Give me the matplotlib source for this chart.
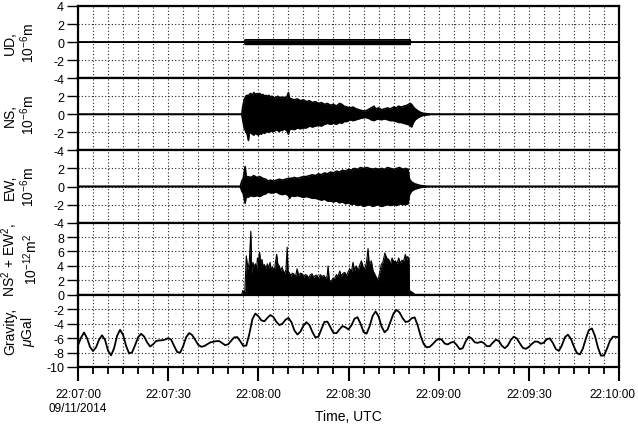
import matplotlib
matplotlib.use("Agg")
import matplotlib.pyplot as plt
from matplotlib.ticker import MultipleLocator, FixedLocator
from matplotlib.transforms import ScaledTranslation
import numpy as np

# ---------------- data (seconds after 22:07:00) ----------------
xtick_pos = [0, 30, 60, 90, 120, 150, 180]
xtick_labels = ["22:07:00\n09/11/2014", "22:07:30", "22:08:00", "22:08:30",
                "22:09:00", "22:09:30", "22:10:00"]

# UD displacement envelope (10^-6 m)
ud_t = [0, 55.5, 55.6, 110.5, 110.6, 180]
ud_upper = [0, 0, 0.25, 0.25, 0, 0]
ud_lower = [0, 0, -0.25, -0.25, 0, 0]

# NS displacement envelope (10^-6 m)
ns_t = [0, 54.5, 54.8, 55.3, 55.8, 56.3, 56.7, 57.0, 57.5, 58.0, 58.5, 59.0, 59.5, 60.0,
        60.5, 61.0, 61.5, 62.0, 62.5, 63.0, 63.5, 64.0, 64.5, 65.0, 65.5, 66.0, 66.5,
        67.0, 67.5, 68.0, 68.5, 69.0, 69.5, 70.0, 70.4, 71.0, 72.0, 73.0, 74.0, 75.0,
        76.0, 77.0, 78.0, 79.0, 80.0, 81.0, 82.0, 83.0, 84.0, 85.0, 86.0, 87.0, 87.8,
        88.5, 89.5, 90.5, 91.5, 92.5, 93.5, 94.5, 95.5, 96.5, 97.5, 98.5, 99.0, 100.0,
        101.0, 102.0, 103.0, 104.0, 105.0, 106.0, 106.6, 107.5, 108.5, 109.5, 110.5,
        111.0, 111.6, 112.2, 113.0, 114.0, 115.0, 116.5, 117.5, 180]
ns_upper = [0, 0, 0.8, 1.6, 2.0, 2.1, 2.0, 2.2, 2.3, 2.1, 2.4, 2.2, 2.3, 2.2,
            2.3, 2.1, 2.2, 2.0, 2.1, 2.0, 2.1, 1.9, 2.0, 1.9, 1.8, 1.9, 2.0,
            1.8, 1.9, 1.8, 1.9, 1.8, 1.9, 2.4, 1.8, 1.7, 1.6, 1.7, 1.5, 1.6,
            1.4, 1.5, 1.3, 1.4, 1.2, 1.3, 1.1, 1.2, 1.0, 1.1, 0.9, 1.2, 1.1,
            0.9, 0.8, 0.7, 0.8, 0.6, 0.5, 0.4, 0.35, 0.5, 0.7, 0.9, 0.6, 0.7,
            0.5, 0.6, 0.7, 0.6, 0.8, 0.7, 0.9, 0.8, 0.9, 1.0, 1.2,
            1.1, 0.8, 0.6, 0.4, 0.2, 0.1, 0.05, 0, 0]
ns_lower = [0, 0, -0.6, -1.5, -1.9, -2.2, -2.9, -2.1, -2.0, -2.2, -2.3, -2.1, -2.2, -2.3,
            -2.1, -2.2, -2.0, -2.1, -2.0, -1.9, -2.0, -1.9, -1.8, -1.9, -1.8, -1.7, -1.8,
            -1.9, -1.7, -1.8, -1.6, -1.7, -1.8, -2.2, -1.7, -1.6, -1.7, -1.5, -1.6, -1.5,
            -1.5, -1.3, -1.4, -1.3, -1.2, -1.3, -1.1, -1.0, -1.1, -1.0, -1.1, -0.9, -1.0,
            -0.8, -0.8, -0.6, -0.7, -0.6, -0.5, -0.4, -0.35, -0.4, -0.6, -0.7, -0.6, -0.5,
            -0.6, -0.5, -0.6, -0.7, -0.7, -0.8, -0.9, -0.9, -1.0, -1.1, -1.2,
            -1.4, -0.9, -0.6, -0.4, -0.2, -0.1, -0.05, 0, 0]

# EW displacement envelope (10^-6 m)
ew_t = [0, 54.0, 54.5, 55.0, 55.6, 56.0, 56.5, 57.5, 58.5, 59.5, 60.5, 61.5, 62.5, 63.2,
        64.0, 65.0, 66.0, 67.0, 68.0, 69.0, 70.0, 70.4, 71.0, 72.0, 73.0, 74.0, 75.0,
        76.0, 77.0, 78.0, 79.0, 80.0, 81.0, 82.0, 83.0, 84.0, 85.0, 86.0, 87.0, 88.0,
        89.0, 90.0, 91.0, 92.0, 93.0, 94.0, 95.0, 96.0, 97.0, 98.0, 99.0, 100.0, 101.0,
        102.0, 103.0, 104.0, 105.0, 106.0, 107.0, 108.0, 109.0, 109.8, 110.3, 111.0,
        112.0, 113.0, 114.0, 115.5, 117.0, 180]
ew_upper = [0, 0, 0.6, 0.9, 2.2, 1.0, 1.1, 1.0, 1.2, 1.0, 1.1, 0.9, 0.8, 0.6,
            0.7, 0.6, 0.7, 0.8, 0.7, 0.8, 0.9, 0.9, 0.9, 1.0, 0.9, 1.0, 1.1,
            1.1, 1.2, 1.3, 1.2, 1.4, 1.3, 1.5, 1.4, 1.6, 1.5, 1.7, 1.6, 1.8,
            1.7, 1.9, 1.8, 2.0, 1.9, 2.1, 2.0, 2.1, 2.0, 1.9, 2.0, 1.9, 2.0,
            1.9, 2.1, 2.0, 1.9, 2.0, 2.1, 1.9, 2.0, 1.9, 0.8, 0.5,
            0.3, 0.2, 0.1, 0.05, 0, 0]
ew_lower = [0, 0, -0.5, -0.8, -1.85, -1.0, -1.2, -1.0, -1.1, -1.0, -1.1, -0.9, -0.8, -0.6,
            -0.7, -0.7, -0.6, -0.8, -0.9, -0.8, -1.0, -1.3, -1.0, -1.1, -1.0, -1.1, -1.2,
            -1.1, -1.2, -1.3, -1.3, -1.4, -1.5, -1.4, -1.6, -1.6, -1.7, -1.6, -1.8, -1.7,
            -1.9, -1.8, -2.0, -1.9, -2.1, -2.0, -2.2, -2.1, -2.0, -2.2, -2.1, -2.0, -2.2,
            -2.1, -2.0, -2.1, -2.0, -2.1, -1.9, -2.0, -2.0, -1.9, -0.9, -0.5,
            -0.3, -0.2, -0.1, -0.05, 0, 0]

# NS^2 + EW^2 (10^-12 m^2)
pw_t = [0, 54.5, 54.8, 55.5, 56.0, 56.5, 57.0, 57.5, 57.8, 58.2, 58.6, 59.0, 59.4, 59.7,
        60.0, 60.4, 60.8, 61.2, 61.6, 62.0, 62.5, 63.0, 63.5, 63.9, 64.3, 64.8, 65.3,
        65.7, 66.1, 66.5, 67.0, 67.4, 67.9, 68.3, 68.8, 69.2, 69.6, 69.9, 70.3, 70.8,
        71.3, 71.8, 72.3, 72.9, 73.4, 74.0, 74.6, 75.1, 75.6, 76.2, 76.8, 77.3, 77.9,
        78.4, 79.0, 79.5, 80.0, 80.6, 81.2, 81.8, 82.4, 82.9, 83.2, 83.6, 84.2, 84.8,
        85.4, 86.0, 86.5, 87.1, 87.6, 88.2, 88.8, 89.3, 89.9, 90.4, 91.0, 91.5, 92.0,
        92.6, 93.2, 93.8, 94.3, 94.9, 95.4, 96.0, 96.5, 96.9, 97.6, 98.2, 98.7, 99.3,
        99.8, 100.4, 100.9, 101.5, 102.1, 102.7, 103.4, 103.9, 104.5, 105.0, 105.6,
        106.1, 106.7, 107.2, 107.8, 108.3, 108.9, 109.4, 109.7, 110.1, 110.3, 111.0,
        111.7, 112.2, 180]
pw_val = [0, 0, 0.6, 0.4, 5.4, 3.5, 4.6, 8.8, 3.0, 4.5, 3.8, 4.3, 3.5, 5.1,
          4.6, 5.9, 4.4, 4.9, 3.9, 4.2, 3.6, 4.3, 3.7, 4.5, 3.5, 3.8, 3.2,
          4.5, 5.6, 4.2, 4.0, 3.3, 3.8, 3.3, 3.0, 3.5, 6.6, 3.0, 3.1, 2.6,
          3.0, 2.9, 2.4, 3.6, 2.7, 3.0, 2.9, 2.4, 2.8, 2.7, 2.3, 2.8, 2.9,
          2.4, 2.7, 2.7, 2.2, 2.8, 2.5, 2.7, 2.3, 2.6, 4.0, 2.1, 1.8, 2.3,
          2.3, 2.8, 2.5, 3.3, 2.6, 3.0, 3.1, 2.6, 3.2, 3.6, 3.2, 4.5, 3.4,
          4.0, 3.3, 4.2, 4.7, 3.8, 3.6, 4.5, 6.4, 4.2, 4.7, 3.3, 2.9, 2.4,
          2.0, 3.1, 4.2, 4.6, 5.8, 5.1, 4.9, 4.2, 5.1, 4.6, 4.7,
          4.3, 5.1, 4.4, 4.8, 4.6, 5.6, 4.9, 5.3, 5.0, 0.6, 0.4,
          0.2, 0.0, 0.0]

# Gravity (microGal), one value per second
grav_t = list(range(0, 181))
grav = [-7.0, -5.94, -5.22, -6.0, -7.22, -7.8, -7.28, -6.22, -5.61, -6.25,
        -7.74, -8.39, -7.41, -5.69, -4.85, -5.55, -7.07, -8.13, -7.96, -6.98,
        -5.88, -5.4, -5.78, -6.59, -7.16, -6.85, -6.4, -6.32, -6.3, -6.2,
        -6.0, -6.22, -7.1, -7.93, -8.01, -7.09, -5.86, -5.3, -5.58, -6.25,
        -6.92, -7.2, -7.1, -6.85, -6.6, -6.5, -6.42, -6.41, -6.7, -6.98,
        -6.84, -6.35, -5.89, -5.86, -6.43, -7.07, -7.03, -5.44, -3.39, -2.6,
        -2.97, -3.54, -3.67, -3.2, -2.8, -3.07, -3.74, -4.19, -4.01, -3.48,
        -3.2, -3.78, -4.93, -5.5, -5.1, -4.28, -3.8, -4.18, -5.16, -5.92,
        -5.78, -4.74, -3.75, -3.72, -4.5, -5.28, -5.32, -4.79, -4.33, -4.5,
        -4.8, -4.21, -3.31, -3.11, -4.0, -5.14, -5.39, -4.39, -2.96, -2.3,
        -2.98, -4.39, -5.19, -4.81, -3.71, -2.57, -2.1, -2.46, -3.23, -3.77,
        -3.67, -3.26, -3.12, -4.2, -5.7, -6.8, -7.28, -7.21, -6.84, -6.38,
        -6.08, -6.2, -6.75, -6.87, -6.63, -6.5, -6.95, -7.53, -7.39, -6.44,
        -5.8, -6.06, -6.58, -6.66, -6.51, -6.66, -7.11, -7.12, -6.64, -6.23,
        -6.39, -7.04, -7.4, -7.02, -6.25, -5.8, -6.05, -6.72, -7.35, -7.48,
        -7.22, -6.8, -6.47, -6.5, -6.78, -6.62, -6.14, -6.04, -6.67, -7.52,
        -7.77, -7.0, -5.88, -5.52, -6.1, -7.18, -8.08, -8.25, -7.42, -6.02,
        -4.87, -4.66, -5.69, -7.31, -8.44, -8.38, -7.47, -6.36, -5.8, -5.82,
        -5.9]

ylabels = ["UD,\n10$^{-6}$m", "NS,\n10$^{-6}$m", "EW,\n10$^{-6}$m",
           "NS$^2$ + EW$^2$,\n10$^{-12}$m$^2$", "Gravity,\n$\\mu$Gal"]
ylims = [(-4, 4), (-4, 4), (-4, 4), (0, 10), (-10, 0)]
yticks = [[4, 2, 0, -2, -4], [2, 0, -2, -4], [2, 0, -2, -4],
          [8, 6, 4, 2, 0], [-2, -4, -6, -8, -10]]

# ---------------- style ----------------
plt.rcParams['font.family'] = ['Liberation Sans', 'DejaVu Sans']
plt.rcParams['mathtext.fontset'] = 'custom'
plt.rcParams['mathtext.rm'] = 'Liberation Sans'
plt.rcParams['mathtext.it'] = 'Liberation Sans:italic'
plt.rcParams['mathtext.bf'] = 'Liberation Sans:bold'
plt.rcParams['axes.unicode_minus'] = False

W, H = 638, 431
fig, axes = plt.subplots(5, 1, sharex=True, figsize=(W / 100, H / 100), dpi=100)
fig.subplots_adjust(left=78 / W, right=619 / W, top=1 - 7 / H, bottom=1 - 368 / H, hspace=0)

grid_kw = dict(color='#222222', linestyle=(0, (1, 2)), linewidth=0.8)

for i, ax in enumerate(axes):
    ax.set_xlim(0, 180)
    ax.set_ylim(*ylims[i])
    ax.yaxis.set_major_locator(FixedLocator(yticks[i]))
    ax.xaxis.set_major_locator(FixedLocator(xtick_pos))
    ax.xaxis.set_minor_locator(MultipleLocator(5))
    ax.grid(True, axis='x', which='both', **grid_kw)
    ax.grid(True, axis='y', which='major', **grid_kw)
    ax.set_axisbelow(True)
    for sp in ax.spines.values():
        sp.set_linewidth(1.6)
        sp.set_color('black')
    ax.tick_params(axis='y', direction='out', length=8, width=1.0, labelsize=9, pad=2)
    if i < 4:
        ax.tick_params(axis='x', which='both', length=0, labelbottom=False)
    # y label, centred on the panel
    pos = ax.get_position()
    fig.text(20 / W, (pos.y0 + pos.y1) / 2, ylabels[i], rotation=90, ha='center',
             va='center', multialignment='center', fontsize=10, linespacing=1.1)

# UD, NS, EW
for ax, t, up, lo in [(axes[0], ud_t, ud_upper, ud_lower),
                      (axes[1], ns_t, ns_upper, ns_lower),
                      (axes[2], ew_t, ew_upper, ew_lower)]:
    ax.fill_between(t, lo, up, color='black', linewidth=0, zorder=3)
    ax.plot(t, up, color='black', linewidth=1.2, zorder=3)
    ax.plot(t, lo, color='black', linewidth=1.2, zorder=3)

# NS^2 + EW^2
axes[3].fill_between(pw_t, 0, pw_val, color='black', linewidth=0, zorder=3)
axes[3].plot(pw_t, pw_val, color='black', linewidth=0.8, zorder=3)

# Gravity
axes[4].plot(grav_t, grav, color='black', linewidth=1.3, zorder=3)

axb = axes[4]
axb.set_xticks(xtick_pos)
axb.set_xticklabels(xtick_labels)
axb.tick_params(axis='x', which='major', direction='out', length=10, width=1.5,
                labelsize=8.5, pad=5)
axb.tick_params(axis='x', which='minor', direction='out', length=5, width=1.3)
# keep the last label inside the canvas
last = axb.get_xticklabels()[-1]
last.set_transform(last.get_transform() + ScaledTranslation(-5 / 72, 0, fig.dpi_scale_trans))

fig.text((78 + 619) / 2 / W, 1 - 417 / H, "Time, UTC", ha='center', va='center', fontsize=10)

fig.savefig("out.png", dpi=100)
